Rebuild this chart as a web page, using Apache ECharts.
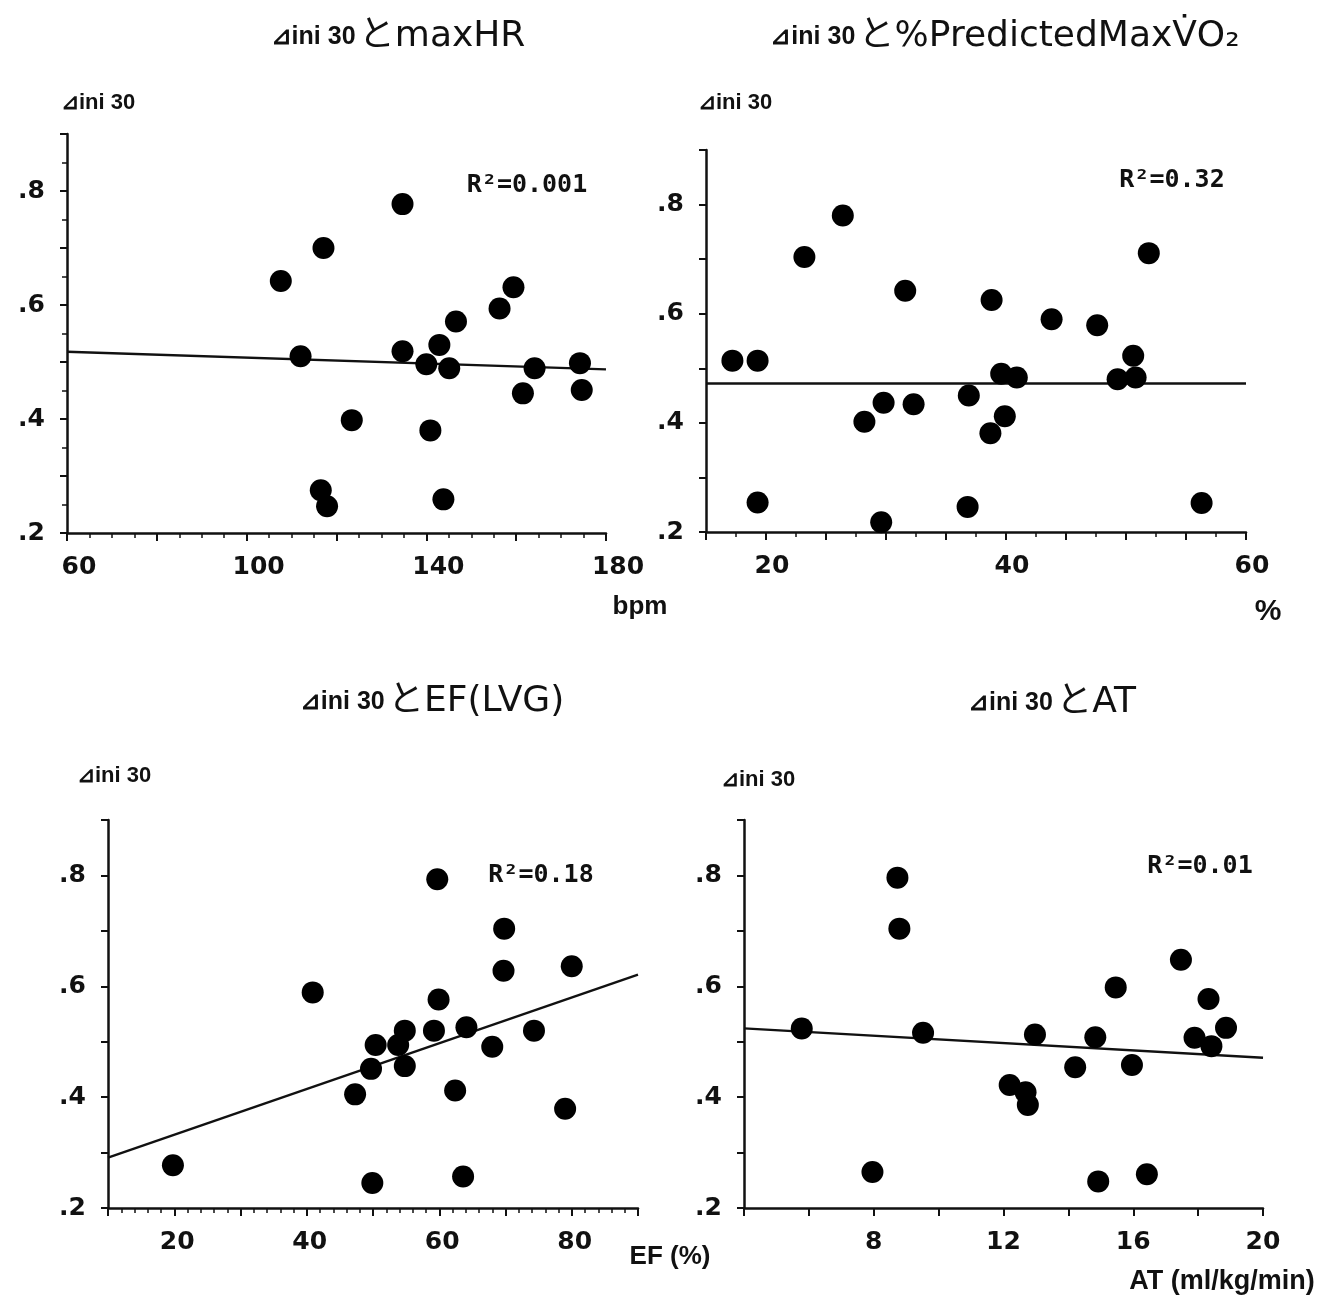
<!DOCTYPE html>
<html><head><meta charset="utf-8">
<script src="https://cdn.jsdelivr.net/npm/echarts@6/dist/echarts.min.js"></script>
<style>html,body{margin:0;padding:0;background:#fff}#c{width:1323px;height:1300px}</style>
</head><body><div id="c"></div>
<script>
// ---- data ----
const titles = ['とmaxHR', 'と%PredictedMaxV\u0307O\u2082', 'とEF(LVG)', 'とAT'];
const yName = '⊿ini 30';
const titlePrefix = '⊿ini 30';
const r2Labels = ['R²=0.001', 'R²=0.32', 'R²=0.18', 'R²=0.01'];
const xNames = ['bpm', '%', 'EF (%)', 'AT (ml/kg/min)'];
const yTickLabels = [0.2, 0.4, 0.6, 0.8];

const hrTicks = [60, 100, 140, 180];
const hrPoints = [
  [134.7,0.777],[117.1,0.700],[107.6,0.642],[159.4,0.631],[156.3,0.594],[146.6,0.571],
  [142.9,0.530],[134.7,0.519],[112.0,0.510],[140.0,0.496],[145.1,0.489],[164.1,0.489],
  [174.2,0.498],[161.5,0.445],[174.6,0.451],[123.4,0.398],[140.9,0.380],[116.5,0.275],
  [117.9,0.247],[143.8,0.259]
];
const hrFit = [[60,0.518],[180,0.487]];

const vo2Ticks = [20, 40, 60];
const vo2Points = [
  [17.2,0.514],[19.3,0.514],[19.3,0.254],[23.2,0.704],[26.4,0.780],[31.6,0.642],
  [28.2,0.402],[29.8,0.437],[32.3,0.434],[29.6,0.218],[36.8,0.246],[36.9,0.450],
  [38.8,0.625],[38.7,0.381],[39.9,0.412],[39.6,0.490],[40.9,0.483],[43.8,0.590],
  [47.6,0.579],[49.3,0.480],[50.6,0.523],[50.8,0.483],[51.9,0.711],[56.3,0.253]
];
const vo2Fit = [[15,0.472],[60,0.472]];

const efTicks = [20, 40, 60, 80];
const efPoints = [
  [19.8,0.277],[40.9,0.589],[59.7,0.793],[69.8,0.704],[69.7,0.628],[80.0,0.636],
  [59.9,0.576],[59.2,0.520],[54.8,0.520],[64.1,0.526],[74.3,0.520],[50.4,0.494],
  [53.8,0.494],[68.0,0.491],[49.7,0.451],[54.8,0.456],[47.3,0.405],[62.4,0.412],
  [79.0,0.379],[49.9,0.245],[63.6,0.257]
];
const efFit = [[10,0.291],[90,0.621]];

const atTicks = [8, 12, 16, 20];
const atPoints = [
  [8.73,0.796],[8.79,0.704],[5.78,0.524],[9.52,0.516],[7.96,0.265],[12.97,0.513],
  [12.19,0.422],[12.68,0.409],[12.75,0.386],[14.21,0.454],[14.83,0.508],[14.92,0.248],
  [15.46,0.598],[15.96,0.458],[16.42,0.261],[17.47,0.648],[18.32,0.577],[17.89,0.507],
  [18.41,0.492],[18.86,0.525]
];
const atFit = [[4,0.524],[20,0.471]];

// ---- layout ----
const panels = [
  {grid:{left:67,top:134,width:539,height:399}, x:{min:60,max:180,interval:20,minor:4}, yMinor:2, xPad:24,
   pts:hrPoints, fit:hrFit, ticks:hrTicks},
  {grid:{left:706,top:150,width:540,height:382}, x:{min:15,max:60,interval:5,minor:2}, yMinor:0, xPad:12,
   pts:vo2Points, fit:vo2Fit, ticks:vo2Ticks},
  {grid:{left:108,top:820,width:530,height:388}, x:{min:10,max:90,interval:10,minor:5}, yMinor:0, xPad:6,
   pts:efPoints, fit:efFit, ticks:efTicks},
  {grid:{left:744,top:820,width:519,height:388}, x:{min:4,max:20,interval:2,minor:0}, yMinor:0, xPad:0,
   pts:atPoints, fit:atFit, ticks:atTicks}
];

const INK = '#111';
const labelFont = {color: INK, fontSize: 25, fontWeight: 'bold', fontFamily: 'DejaVu Sans, sans-serif'};

const grids = [], xAxes = [], yAxes = [], series = [];
panels.forEach((p, i) => {
  grids.push(Object.assign({}, p.grid));
  xAxes.push({
    type: 'value', gridIndex: i, min: p.x.min, max: p.x.max, interval: p.x.interval,
    splitLine: {show: false},
    axisLine: {show: true, onZero: false, lineStyle: {color: INK, width: 2.5}},
    axisTick: {show: true, length: 8, lineStyle: {color: INK, width: 2}},
    minorTick: {show: p.x.minor > 0, splitNumber: p.x.minor || 5, length: 5, lineStyle: {color: INK, width: 1.5}},
    axisLabel: Object.assign({margin: 22, padding: [0, 0, 0, p.xPad],
      formatter: v => p.ticks.some(t => Math.abs(t - v) < 1e-6) ? String(v) : ''}, labelFont)
  });
  yAxes.push({
    type: 'value', gridIndex: i, min: 0.2, max: 0.9, interval: 0.1,
    splitLine: {show: false},
    axisLine: {show: true, onZero: false, lineStyle: {color: INK, width: 2.5}},
    axisTick: {show: true, length: 7, lineStyle: {color: INK, width: 2}},
    minorTick: {show: p.yMinor > 0, splitNumber: p.yMinor || 2, length: 5, lineStyle: {color: INK, width: 1.5}},
    axisLabel: Object.assign({margin: 22,
      formatter: v => yTickLabels.some(t => Math.abs(t - v) < 1e-6) ? ('.' + Math.round(v * 10)) : ''}, labelFont)
  });
  series.push({
    type: 'line', xAxisIndex: i, yAxisIndex: i, data: p.fit, symbol: 'none',
    lineStyle: {color: INK, width: 2.4}, silent: true, z: 2
  });
  series.push({
    type: 'scatter', xAxisIndex: i, yAxisIndex: i, data: p.pts, symbol: 'circle', symbolSize: 22,
    itemStyle: {color: '#000', opacity: 1}, z: 3
  });
});

const titlePos = [[398, 37], [1005, 37], [432, 702], [1052, 703]];
const yNamePos = [[98, 103], [735, 103], [114, 776], [758, 780]];
const r2Pos = [[527, 185], [1172, 180], [541, 875], [1200, 866]];
const xNamePos = [[640, 607], [1268, 612], [670, 1257], [1222, 1282]];
const xNameSize = [26, 30, 26, 27];

const graphics = [];
titles.forEach((t, i) => {
  graphics.push({type: 'text', x: titlePos[i][0], y: titlePos[i][1], style: {
    text: '{s|' + titlePrefix + '} {b|' + t + '}',
    align: 'center', verticalAlign: 'middle',
    rich: {
      s: {fontSize: 25, fontWeight: 'bold', fill: INK, fontFamily: 'Liberation Sans Narrow, Liberation Sans, sans-serif'},
      b: {fontSize: 36, fill: INK, fontFamily: 'DejaVu Sans, Noto Sans CJK JP, sans-serif'}
    }
  }});
  graphics.push({type: 'text', x: yNamePos[i][0], y: yNamePos[i][1], style: {
    text: yName, align: 'center', verticalAlign: 'middle', fill: INK,
    font: 'bold 22px "Liberation Sans Narrow", "Liberation Sans", sans-serif'}});
  graphics.push({type: 'text', x: r2Pos[i][0], y: r2Pos[i][1], style: {
    text: r2Labels[i], align: 'center', verticalAlign: 'middle', fill: INK,
    font: 'bold 25px "DejaVu Sans Mono", monospace'}});
  graphics.push({type: 'text', x: xNamePos[i][0], y: xNamePos[i][1], style: {
    text: xNames[i], align: 'center', verticalAlign: 'middle', fill: INK,
    font: 'bold ' + xNameSize[i] + 'px "Liberation Sans", sans-serif'}});
});

const chart = echarts.init(document.getElementById('c'), null, {renderer: 'canvas'});
chart.setOption({
  backgroundColor: '#fff',
  animation: false,
  grid: grids, xAxis: xAxes, yAxis: yAxes, series: series,
  graphic: graphics
});
</script>
</body></html>
